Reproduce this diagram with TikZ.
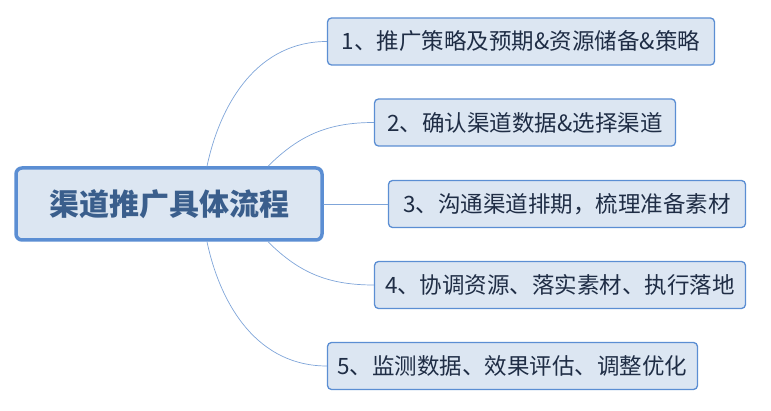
\documentclass[tikz,border=0pt]{standalone}
\usepackage{fontspec}
\newfontfamily\cjk{Noto Sans CJK SC}
\usetikzlibrary{calc}
\definecolor{boxfill}{HTML}{DCE6F2}
\definecolor{boxline}{HTML}{5B8ED3}
\definecolor{maintext}{HTML}{3A5E8C}
\definecolor{steptext}{HTML}{1F2D45}
\definecolor{linkline}{HTML}{7FA5D9}
\tikzset{
  mainbox/.style={draw=boxline, line width=3.5pt, fill=boxfill, rounded corners=6pt,
    text=maintext, font=\cjk\bfseries\fontsize{30}{33}\selectfont,
    minimum width=306pt, minimum height=72pt, inner sep=0pt},
  stepbox/.style={draw=boxline, line width=1.3pt, fill=boxfill, rounded corners=4pt,
    text=steptext, font=\cjk\fontsize{22.5}{25}\selectfont,
    minimum height=47pt, inner sep=0pt},
  link/.style={draw=linkline, line width=0.7pt}
}
\begin{document}
\begin{tikzpicture}[x=1pt, y=-1pt, line join=round, line cap=round]
        \useasboundingbox (0,0) rectangle (771,411);

        \node[mainbox] (main) at (169,204) {渠道推广具体流程};

        \node[stepbox, minimum width=387pt] (s1) at (521,41.5) {1、推广策略及预期\&资源储备\&策略};
        \node[stepbox, minimum width=301pt] (s2) at (525,122.5) {2、确认渠道数据\&选择渠道};
        \node[stepbox, minimum width=357pt] (s3) at (567,204) {3、沟通渠道排期，梳理准备素材};
        \node[stepbox, minimum width=371pt] (s4) at (560,285) {4、协调资源、落实素材、执行落地};
        \node[stepbox, minimum width=370pt] (s5) at (512.5,366) {5、监测数据、效果评估、调整优化};

        \draw[link] ([xshift=38pt]main.north) to[out=78, in=180] (s1.west);
        \draw[link] ([xshift=99pt]main.north) to[out=45, in=180] (s2.west);
        \draw[link] (main.east) -- (s3.west);
        \draw[link] ([xshift=99pt]main.south) to[out=-45, in=180] (s4.west);
        \draw[link] ([xshift=38pt]main.south) to[out=-78, in=180] (s5.west);
\end{tikzpicture}
\end{document}
